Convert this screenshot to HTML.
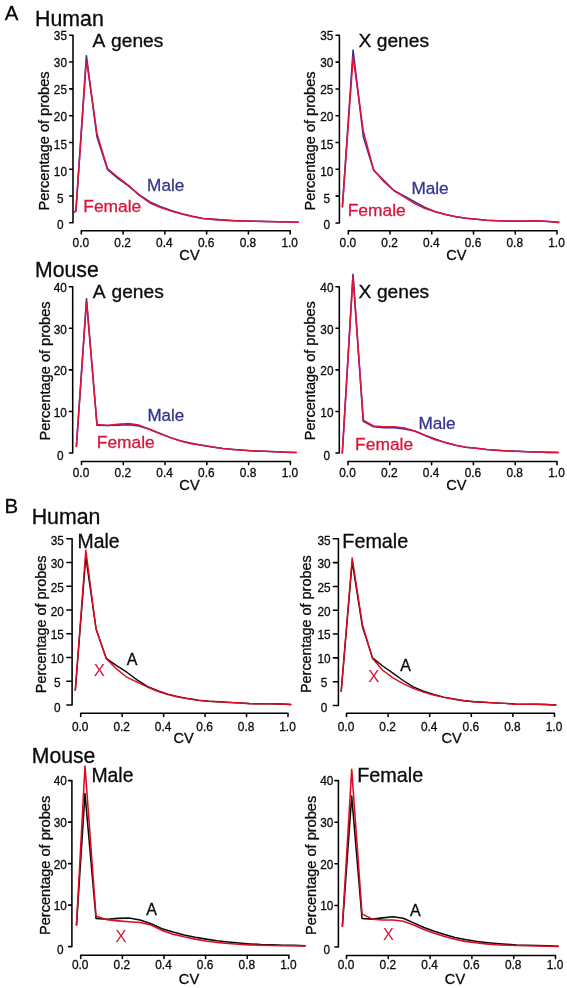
<!DOCTYPE html>
<html><head><meta charset="utf-8"><title>Figure</title>
<style>
html,body{margin:0;padding:0;background:#fff;}
body{width:567px;height:988px;overflow:hidden;font-family:"Liberation Sans",sans-serif;}
svg{display:block;will-change:transform;}
svg text{font-family:"Liberation Sans",sans-serif;fill:#0a0a0a;stroke:#0a0a0a;stroke-width:0.3px;}
svg text.thin{stroke-width:0;}
</style></head><body>
<svg width="567" height="988" viewBox="0 0 567 988">
<rect width="567" height="988" fill="#fff"/>
<g>
<path d="M74.6,211.82 L75.9,211.01 L86.4,55.66 L97,137.09 L107.59,169.76 L118.19,178.55 L128.78,186.1 L139.38,194.94 L149.97,201.91 L160.56,206.62 L171.16,210.48 L181.75,213.75 L192.35,216.37 L202.94,218.41 L213.54,219.37 L224.14,220.12 L234.73,220.66 L245.33,221.03 L255.92,221.35 L266.51,221.57 L277.11,221.73 L287.71,221.94 L298.3,222.26" fill="none" stroke="#2f2f9e" stroke-width="1.55" stroke-linejoin="round" stroke-linecap="round"/>
<path d="M74.6,211.82 L75.9,211.01 L86.4,59.41 L97,133.87 L107.59,168.69 L118.19,177.48 L128.78,185.57 L139.38,195.48 L149.97,202.98 L160.56,207.43 L171.16,211.01 L181.75,214.01 L192.35,216.48 L202.94,218.41 L213.54,219.37 L224.14,220.12 L234.73,220.66 L245.33,221.03 L255.92,221.35 L266.51,221.57 L277.11,221.73 L287.71,221.94 L298.3,222.26" fill="none" stroke="#e3123a" stroke-width="1.55" stroke-linejoin="round" stroke-linecap="round"/>
<path d="M69.65,35.3 H73 V222.8 H69.65 M73,196.01 H69.65 M73,169.23 H69.65 M73,142.44 H69.65 M73,115.66 H69.65 M73,88.87 H69.65 M73,62.09 H69.65 M81.3,233.9 V230.7 H290.2 V233.9 M123.08,230.7 V233.9 M164.86,230.7 V233.9 M206.64,230.7 V233.9 M248.42,230.7 V233.9" fill="none" stroke="#000" stroke-width="1.55" stroke-linecap="round" stroke-linejoin="round"/>
<text transform="translate(60.4,229.35) scale(0.93,1)" font-size="12.7" text-anchor="middle">0</text>
<text transform="translate(60.4,202.85) scale(0.93,1)" font-size="12.7" text-anchor="middle">5</text>
<text transform="translate(60.4,175.7) scale(0.93,1)" font-size="12.7" text-anchor="middle">10</text>
<text transform="translate(60.4,148.55) scale(0.93,1)" font-size="12.7" text-anchor="middle">15</text>
<text transform="translate(60.4,121.4) scale(0.93,1)" font-size="12.7" text-anchor="middle">20</text>
<text transform="translate(60.4,94.25) scale(0.93,1)" font-size="12.7" text-anchor="middle">25</text>
<text transform="translate(60.4,67.1) scale(0.93,1)" font-size="12.7" text-anchor="middle">30</text>
<text transform="translate(60.4,39.95) scale(0.93,1)" font-size="12.7" text-anchor="middle">35</text>
<text transform="translate(80.8,246.85) scale(0.96,1)" font-size="12.4" text-anchor="middle">0.0</text>
<text transform="translate(122.58,246.85) scale(0.96,1)" font-size="12.4" text-anchor="middle">0.2</text>
<text transform="translate(164.36,246.85) scale(0.96,1)" font-size="12.4" text-anchor="middle">0.4</text>
<text transform="translate(206.14,246.85) scale(0.96,1)" font-size="12.4" text-anchor="middle">0.6</text>
<text transform="translate(247.92,246.85) scale(0.96,1)" font-size="12.4" text-anchor="middle">0.8</text>
<text transform="translate(289.7,246.85) scale(0.96,1)" font-size="12.4" text-anchor="middle">1.0</text>
<text x="189.5" y="259.7" font-size="14.6" text-anchor="middle">CV</text>
<text transform="translate(49.3,141) rotate(-90)" font-size="14.55" text-anchor="middle">Percentage of probes</text>
<text x="92.4" y="46.6" font-size="19.2" word-spacing="1.6" style="fill:#0a0a0a;stroke:#0a0a0a">A genes</text>
<text x="147.1" y="191" font-size="17.2" style="fill:#353592;stroke:#353592">Male</text>
<text x="83.3" y="211.9" font-size="17.4" style="fill:#d6173a;stroke:#d6173a">Female</text>
</g>
<g>
<path d="M342.4,206.82 L353.1,50.04 L363.38,137.14 L373.66,170.37 L383.94,180.56 L394.22,190.74 L404.5,196.1 L414.78,202 L425.06,207.36 L435.34,211.64 L445.62,214.59 L455.9,216.74 L466.18,218.18 L476.46,219.26 L486.74,220.22 L497.02,220.65 L507.3,221.02 L517.58,221.29 L527.86,220.97 L538.14,220.97 L548.42,221.56 L558.7,222.36" fill="none" stroke="#2f2f9e" stroke-width="1.55" stroke-linejoin="round" stroke-linecap="round"/>
<path d="M342.4,206.82 L353.1,56.74 L363.38,131.78 L373.66,169.84 L383.94,181.63 L394.22,190.74 L404.5,197.17 L414.78,203.6 L425.06,208.43 L435.34,211.64 L445.62,214.59 L455.9,216.74 L466.18,218.18 L476.46,219.26 L486.74,220.22 L497.02,220.65 L507.3,221.02 L517.58,221.13 L527.86,220.97 L538.14,220.86 L548.42,221.56 L558.7,222.36" fill="none" stroke="#e3123a" stroke-width="1.55" stroke-linejoin="round" stroke-linecap="round"/>
<path d="M336.05,35.3 H339.4 V222.9 H336.05 M339.4,196.1 H336.05 M339.4,169.3 H336.05 M339.4,142.5 H336.05 M339.4,115.7 H336.05 M339.4,88.9 H336.05 M339.4,62.1 H336.05 M348.3,233.9 V230.7 H557 V233.9 M390.04,230.7 V233.9 M431.78,230.7 V233.9 M473.52,230.7 V233.9 M515.26,230.7 V233.9" fill="none" stroke="#000" stroke-width="1.55" stroke-linecap="round" stroke-linejoin="round"/>
<text transform="translate(326.8,229.35) scale(0.93,1)" font-size="12.7" text-anchor="middle">0</text>
<text transform="translate(326.8,202.85) scale(0.93,1)" font-size="12.7" text-anchor="middle">5</text>
<text transform="translate(326.8,175.7) scale(0.93,1)" font-size="12.7" text-anchor="middle">10</text>
<text transform="translate(326.8,148.55) scale(0.93,1)" font-size="12.7" text-anchor="middle">15</text>
<text transform="translate(326.8,121.4) scale(0.93,1)" font-size="12.7" text-anchor="middle">20</text>
<text transform="translate(326.8,94.25) scale(0.93,1)" font-size="12.7" text-anchor="middle">25</text>
<text transform="translate(326.8,67.1) scale(0.93,1)" font-size="12.7" text-anchor="middle">30</text>
<text transform="translate(326.8,39.95) scale(0.93,1)" font-size="12.7" text-anchor="middle">35</text>
<text transform="translate(347.8,246.85) scale(0.96,1)" font-size="12.4" text-anchor="middle">0.0</text>
<text transform="translate(389.54,246.85) scale(0.96,1)" font-size="12.4" text-anchor="middle">0.2</text>
<text transform="translate(431.28,246.85) scale(0.96,1)" font-size="12.4" text-anchor="middle">0.4</text>
<text transform="translate(473.02,246.85) scale(0.96,1)" font-size="12.4" text-anchor="middle">0.6</text>
<text transform="translate(514.76,246.85) scale(0.96,1)" font-size="12.4" text-anchor="middle">0.8</text>
<text transform="translate(556.5,246.85) scale(0.96,1)" font-size="12.4" text-anchor="middle">1.0</text>
<text x="456.4" y="259.7" font-size="14.6" text-anchor="middle">CV</text>
<text transform="translate(314.8,141) rotate(-90)" font-size="14.55" text-anchor="middle">Percentage of probes</text>
<text x="358.4" y="46.6" font-size="19.2" word-spacing="0.2" style="fill:#0a0a0a;stroke:#0a0a0a">X genes</text>
<text x="411.4" y="194.3" font-size="17.2" style="fill:#353592;stroke:#353592">Male</text>
<text x="347.7" y="215.5" font-size="17.4" style="fill:#d6173a;stroke:#d6173a">Female</text>
</g>
<g>
<path d="M76.4,446.35 L86.5,298.76 L96.99,425.14 L107.48,425.56 L117.97,425.14 L128.46,424.73 L138.95,425.98 L149.44,429.3 L159.93,433.46 L170.42,437.62 L180.91,440.94 L191.4,443.23 L201.89,445.31 L212.38,446.97 L222.87,448.43 L233.36,449.47 L243.85,450.3 L254.34,450.92 L264.83,451.34 L275.32,451.75 L285.81,452.17 L296.3,452.58" fill="none" stroke="#2f2f9e" stroke-width="1.55" stroke-linejoin="round" stroke-linecap="round"/>
<path d="M76.4,446.35 L86.5,301.25 L96.99,424.52 L107.48,425.56 L117.97,424.31 L128.46,423.48 L138.95,425.14 L149.44,429.3 L159.93,433.46 L170.42,437.62 L180.91,440.94 L191.4,443.65 L201.89,445.31 L212.38,446.97 L222.87,448.43 L233.36,449.47 L243.85,450.3 L254.34,450.92 L264.83,451.34 L275.32,451.75 L285.81,452.17 L296.3,452.58" fill="none" stroke="#e3123a" stroke-width="1.55" stroke-linejoin="round" stroke-linecap="round"/>
<path d="M69.35,286.7 H72.7 V453 H69.35 M72.7,411.43 H69.35 M72.7,369.85 H69.35 M72.7,328.27 H69.35 M81.5,464.6 V461.4 H290.4 V464.6 M123.28,461.4 V464.6 M165.06,461.4 V464.6 M206.84,461.4 V464.6 M248.62,461.4 V464.6" fill="none" stroke="#000" stroke-width="1.55" stroke-linecap="round" stroke-linejoin="round"/>
<text transform="translate(60.3,460.25) scale(0.93,1)" font-size="12.7" text-anchor="middle">0</text>
<text transform="translate(60.3,416.8) scale(0.93,1)" font-size="12.7" text-anchor="middle">10</text>
<text transform="translate(60.3,375.15) scale(0.93,1)" font-size="12.7" text-anchor="middle">20</text>
<text transform="translate(60.3,333.5) scale(0.93,1)" font-size="12.7" text-anchor="middle">30</text>
<text transform="translate(60.3,291.85) scale(0.93,1)" font-size="12.7" text-anchor="middle">40</text>
<text transform="translate(81,476.95) scale(0.96,1)" font-size="12.4" text-anchor="middle">0.0</text>
<text transform="translate(122.78,476.95) scale(0.96,1)" font-size="12.4" text-anchor="middle">0.2</text>
<text transform="translate(164.56,476.95) scale(0.96,1)" font-size="12.4" text-anchor="middle">0.4</text>
<text transform="translate(206.34,476.95) scale(0.96,1)" font-size="12.4" text-anchor="middle">0.6</text>
<text transform="translate(248.12,476.95) scale(0.96,1)" font-size="12.4" text-anchor="middle">0.8</text>
<text transform="translate(289.9,476.95) scale(0.96,1)" font-size="12.4" text-anchor="middle">1.0</text>
<text x="189.5" y="489.7" font-size="14.6" text-anchor="middle">CV</text>
<text transform="translate(49.6,371) rotate(-90)" font-size="14.55" text-anchor="middle">Percentage of probes</text>
<text x="92.8" y="297.7" font-size="19.2" word-spacing="1.6" style="fill:#0a0a0a;stroke:#0a0a0a">A genes</text>
<text x="147.4" y="420.8" font-size="17.0" style="fill:#353592;stroke:#353592">Male</text>
<text x="96.8" y="447.9" font-size="17.4" style="fill:#d6173a;stroke:#d6173a">Female</text>
</g>
<g>
<path d="M342.3,453 L353,274.23 L363.27,421.4 L373.54,426.81 L383.81,427.64 L394.08,427.64 L404.35,428.89 L414.62,430.97 L424.89,435.12 L435.16,438.86 L445.43,442.61 L455.7,445.31 L465.97,447.18 L476.24,448.22 L486.51,449.47 L496.78,450.3 L507.05,450.92 L517.32,451.34 L527.59,451.75 L537.86,452.09 L548.13,452.38 L558.4,452.58" fill="none" stroke="#2f2f9e" stroke-width="1.55" stroke-linejoin="round" stroke-linecap="round"/>
<path d="M342.3,453 L353,275.89 L363.27,420.16 L373.54,425.98 L383.81,426.81 L394.08,426.81 L404.35,428.06 L414.62,430.97 L424.89,435.54 L435.16,439.7 L445.43,442.61 L455.7,445.31 L465.97,447.18 L476.24,448.22 L486.51,449.47 L496.78,450.3 L507.05,450.92 L517.32,451.34 L527.59,451.75 L537.86,452.09 L548.13,452.38 L558.4,452.58" fill="none" stroke="#e3123a" stroke-width="1.55" stroke-linejoin="round" stroke-linecap="round"/>
<path d="M335.95,286.7 H339.3 V453 H335.95 M339.3,411.43 H335.95 M339.3,369.85 H335.95 M339.3,328.27 H335.95 M348,464.7 V461.5 H557 V464.7 M389.8,461.5 V464.7 M431.6,461.5 V464.7 M473.4,461.5 V464.7 M515.2,461.5 V464.7" fill="none" stroke="#000" stroke-width="1.55" stroke-linecap="round" stroke-linejoin="round"/>
<text transform="translate(326.9,460.25) scale(0.93,1)" font-size="12.7" text-anchor="middle">0</text>
<text transform="translate(326.9,416.8) scale(0.93,1)" font-size="12.7" text-anchor="middle">10</text>
<text transform="translate(326.9,375.15) scale(0.93,1)" font-size="12.7" text-anchor="middle">20</text>
<text transform="translate(326.9,333.5) scale(0.93,1)" font-size="12.7" text-anchor="middle">30</text>
<text transform="translate(326.9,291.85) scale(0.93,1)" font-size="12.7" text-anchor="middle">40</text>
<text transform="translate(347.5,476.95) scale(0.96,1)" font-size="12.4" text-anchor="middle">0.0</text>
<text transform="translate(389.3,476.95) scale(0.96,1)" font-size="12.4" text-anchor="middle">0.2</text>
<text transform="translate(431.1,476.95) scale(0.96,1)" font-size="12.4" text-anchor="middle">0.4</text>
<text transform="translate(472.9,476.95) scale(0.96,1)" font-size="12.4" text-anchor="middle">0.6</text>
<text transform="translate(514.7,476.95) scale(0.96,1)" font-size="12.4" text-anchor="middle">0.8</text>
<text transform="translate(556.5,476.95) scale(0.96,1)" font-size="12.4" text-anchor="middle">1.0</text>
<text x="456.4" y="489.7" font-size="14.6" text-anchor="middle">CV</text>
<text transform="translate(315.2,370.7) rotate(-90)" font-size="14.55" text-anchor="middle">Percentage of probes</text>
<text x="358.6" y="297.5" font-size="19.2" word-spacing="0.2" style="fill:#0a0a0a;stroke:#0a0a0a">X genes</text>
<text x="418.4" y="428.7" font-size="17.2" style="fill:#353592;stroke:#353592">Male</text>
<text x="355.1" y="450.2" font-size="17.4" style="fill:#d6173a;stroke:#d6173a">Female</text>
</g>
<g>
<path d="M75.3,690.28 L85.8,556.84 L96.05,629.02 L106.3,658.46 L116.55,665.59 L126.8,672.23 L137.05,679.83 L147.3,686.48 L157.55,690.75 L167.8,694.08 L178.05,696.69 L188.3,698.59 L198.55,700.25 L208.8,701.2 L219.05,701.77 L229.3,702.39 L239.55,702.86 L249.8,703.58 L260.05,703.81 L270.3,703.81 L280.55,704.05 L290.8,704.53" fill="none" stroke="#0a0a0a" stroke-width="1.45" stroke-linejoin="round" stroke-linecap="round"/>
<path d="M75.3,690.28 L85.8,550.2 L96.05,629.02 L106.3,658.7 L116.55,668.91 L126.8,677.22 L137.05,682.21 L147.3,686.96 L157.55,691.23 L167.8,694.55 L178.05,696.93 L188.3,698.83 L198.55,700.35 L208.8,701.3 L219.05,701.87 L229.3,702.44 L239.55,702.91 L249.8,703.67 L260.05,703.86 L270.3,703.81 L280.55,704.05 L290.8,704.53" fill="none" stroke="#de0a20" stroke-width="1.45" stroke-linejoin="round" stroke-linecap="round"/>
<path d="M66.85,538.8 H72.1 V705 H66.85 M72.1,681.26 H66.85 M72.1,657.51 H66.85 M72.1,633.77 H66.85 M72.1,610.03 H66.85 M72.1,586.29 H66.85 M72.1,562.54 H66.85 M80.7,716.4 V713.2 H288 V716.4 M122.16,713.2 V716.4 M163.62,713.2 V716.4 M205.08,713.2 V716.4 M246.54,713.2 V716.4" fill="none" stroke="#000" stroke-width="1.55" stroke-linecap="round" stroke-linejoin="round"/>
<text transform="translate(57.3,712.25) scale(0.93,1)" font-size="12.7" text-anchor="middle">0</text>
<text transform="translate(57.3,686.85) scale(0.93,1)" font-size="12.7" text-anchor="middle">5</text>
<text transform="translate(57.3,663.15) scale(0.93,1)" font-size="12.7" text-anchor="middle">10</text>
<text transform="translate(57.3,639.45) scale(0.93,1)" font-size="12.7" text-anchor="middle">15</text>
<text transform="translate(57.3,615.75) scale(0.93,1)" font-size="12.7" text-anchor="middle">20</text>
<text transform="translate(57.3,592.05) scale(0.93,1)" font-size="12.7" text-anchor="middle">25</text>
<text transform="translate(57.3,568.35) scale(0.93,1)" font-size="12.7" text-anchor="middle">30</text>
<text transform="translate(57.3,544.65) scale(0.93,1)" font-size="12.7" text-anchor="middle">35</text>
<text transform="translate(80.2,730.65) scale(0.96,1)" font-size="12.4" text-anchor="middle">0.0</text>
<text transform="translate(121.66,730.65) scale(0.96,1)" font-size="12.4" text-anchor="middle">0.2</text>
<text transform="translate(163.12,730.65) scale(0.96,1)" font-size="12.4" text-anchor="middle">0.4</text>
<text transform="translate(204.58,730.65) scale(0.96,1)" font-size="12.4" text-anchor="middle">0.6</text>
<text transform="translate(246.04,730.65) scale(0.96,1)" font-size="12.4" text-anchor="middle">0.8</text>
<text transform="translate(287.5,730.65) scale(0.96,1)" font-size="12.4" text-anchor="middle">1.0</text>
<text x="183.7" y="742.7" font-size="14.6" text-anchor="middle">CV</text>
<text transform="translate(46.3,624.4) rotate(-90)" font-size="14.4" text-anchor="middle">Percentage of probes</text>
<text x="77.5" y="547.9" font-size="19.4" style="fill:#0a0a0a;stroke:#0a0a0a">Male</text>
<text x="126.8" y="664.7" font-size="16" style="fill:#0a0a0a;stroke:#0a0a0a">A</text>
<text x="99.3" y="675.5" font-size="16.76" text-anchor="middle" class="thin" style="fill:#d6173a;stroke:#d6173a">X</text>
</g>
<g>
<path d="M341.2,691.21 L352.2,561.66 L362.38,626.44 L372.56,657.87 L382.74,665.97 L392.92,673.11 L403.1,680.5 L413.28,686.92 L423.46,691.21 L433.64,694.55 L443.82,697.16 L454,699.07 L464.18,700.74 L474.36,701.69 L484.54,702.26 L494.72,702.88 L504.9,703.36 L515.08,704.07 L525.26,704.31 L535.44,704.31 L545.62,704.55 L555.8,705.02" fill="none" stroke="#0a0a0a" stroke-width="1.45" stroke-linejoin="round" stroke-linecap="round"/>
<path d="M341.2,691.21 L352.2,557.85 L362.38,624.53 L372.56,658.59 L382.74,670.25 L392.92,677.88 L403.1,683.59 L413.28,688.35 L423.46,692.16 L433.64,695.02 L443.82,697.4 L454,699.31 L464.18,700.83 L474.36,701.78 L484.54,702.36 L494.72,702.93 L504.9,703.4 L515.08,704.17 L525.26,704.36 L535.44,704.31 L545.62,704.55 L555.8,705.02" fill="none" stroke="#de0a20" stroke-width="1.45" stroke-linejoin="round" stroke-linecap="round"/>
<path d="M333.35,538.8 H338.4 V705.5 H333.35 M338.4,681.69 H333.35 M338.4,657.87 H333.35 M338.4,634.06 H333.35 M338.4,610.24 H333.35 M338.4,586.43 H333.35 M338.4,562.61 H333.35 M346.5,716.4 V713.2 H554.5 V716.4 M388.1,713.2 V716.4 M429.7,713.2 V716.4 M471.3,713.2 V716.4 M512.9,713.2 V716.4" fill="none" stroke="#000" stroke-width="1.55" stroke-linecap="round" stroke-linejoin="round"/>
<text transform="translate(324.1,712.25) scale(0.93,1)" font-size="12.7" text-anchor="middle">0</text>
<text transform="translate(324.1,686.85) scale(0.93,1)" font-size="12.7" text-anchor="middle">5</text>
<text transform="translate(324.1,663.15) scale(0.93,1)" font-size="12.7" text-anchor="middle">10</text>
<text transform="translate(324.1,639.45) scale(0.93,1)" font-size="12.7" text-anchor="middle">15</text>
<text transform="translate(324.1,615.75) scale(0.93,1)" font-size="12.7" text-anchor="middle">20</text>
<text transform="translate(324.1,592.05) scale(0.93,1)" font-size="12.7" text-anchor="middle">25</text>
<text transform="translate(324.1,568.35) scale(0.93,1)" font-size="12.7" text-anchor="middle">30</text>
<text transform="translate(324.1,544.65) scale(0.93,1)" font-size="12.7" text-anchor="middle">35</text>
<text transform="translate(346,730.65) scale(0.96,1)" font-size="12.4" text-anchor="middle">0.0</text>
<text transform="translate(387.6,730.65) scale(0.96,1)" font-size="12.4" text-anchor="middle">0.2</text>
<text transform="translate(429.2,730.65) scale(0.96,1)" font-size="12.4" text-anchor="middle">0.4</text>
<text transform="translate(470.8,730.65) scale(0.96,1)" font-size="12.4" text-anchor="middle">0.6</text>
<text transform="translate(512.4,730.65) scale(0.96,1)" font-size="12.4" text-anchor="middle">0.8</text>
<text transform="translate(554,730.65) scale(0.96,1)" font-size="12.4" text-anchor="middle">1.0</text>
<text x="451.7" y="742.7" font-size="14.6" text-anchor="middle">CV</text>
<text transform="translate(311.4,624.2) rotate(-90)" font-size="14.4" text-anchor="middle">Percentage of probes</text>
<text x="342.3" y="547.7" font-size="19.8" style="fill:#0a0a0a;stroke:#0a0a0a">Female</text>
<text x="400.2" y="671" font-size="16" style="fill:#0a0a0a;stroke:#0a0a0a">A</text>
<text x="373.75" y="682.4" font-size="16.62" text-anchor="middle" class="thin" style="fill:#d6173a;stroke:#d6173a">X</text>
</g>
<g>
<path d="M76.5,925.02 L85,793.47 L96,918.38 L107.01,919.21 L118.02,918.38 L129.02,917.97 L140.03,920.04 L151.03,923.77 L162.04,928.75 L173.04,932.08 L184.05,934.98 L195.05,937.26 L206.06,939.13 L217.06,940.79 L228.06,942.03 L239.07,943.07 L250.08,943.9 L261.08,944.52 L272.09,944.86 L283.09,945.15 L294.1,945.36 L305.1,945.77" fill="none" stroke="#0a0a0a" stroke-width="1.55" stroke-linejoin="round" stroke-linecap="round"/>
<path d="M76.5,925.02 L85,766.08 L96,916.31 L107.01,919.83 L118.02,920.87 L129.02,921.7 L140.03,922.53 L151.03,925.02 L162.04,930.41 L173.04,934.15 L184.05,936.85 L195.05,939.13 L206.06,941 L217.06,942.45 L228.06,943.49 L239.07,944.32 L250.08,944.86 L261.08,945.15 L272.09,945.44 L283.09,945.69 L294.1,945.85 L305.1,945.98" fill="none" stroke="#de0a20" stroke-width="1.55" stroke-linejoin="round" stroke-linecap="round"/>
<path d="M68.55,780.6 H71.9 V946.6 H68.55 M71.9,905.1 H68.55 M71.9,863.6 H68.55 M71.9,822.1 H68.55 M80.7,958.5 V955.3 H288.9 V958.5 M122.34,955.3 V958.5 M163.98,955.3 V958.5 M205.62,955.3 V958.5 M247.26,955.3 V958.5" fill="none" stroke="#000" stroke-width="1.55" stroke-linecap="round" stroke-linejoin="round"/>
<text transform="translate(60.3,953.65) scale(0.93,1)" font-size="12.7" text-anchor="middle">0</text>
<text transform="translate(60.3,910.25) scale(0.93,1)" font-size="12.7" text-anchor="middle">10</text>
<text transform="translate(60.3,868.65) scale(0.93,1)" font-size="12.7" text-anchor="middle">20</text>
<text transform="translate(60.3,827.05) scale(0.93,1)" font-size="12.7" text-anchor="middle">30</text>
<text transform="translate(60.3,785.45) scale(0.93,1)" font-size="12.7" text-anchor="middle">40</text>
<text transform="translate(80.2,968.75) scale(0.96,1)" font-size="12.4" text-anchor="middle">0.0</text>
<text transform="translate(121.84,968.75) scale(0.96,1)" font-size="12.4" text-anchor="middle">0.2</text>
<text transform="translate(163.48,968.75) scale(0.96,1)" font-size="12.4" text-anchor="middle">0.4</text>
<text transform="translate(205.12,968.75) scale(0.96,1)" font-size="12.4" text-anchor="middle">0.6</text>
<text transform="translate(246.76,968.75) scale(0.96,1)" font-size="12.4" text-anchor="middle">0.8</text>
<text transform="translate(288.4,968.75) scale(0.96,1)" font-size="12.4" text-anchor="middle">1.0</text>
<text x="189" y="983.7" font-size="14.6" text-anchor="middle">CV</text>
<text transform="translate(49.9,865.4) rotate(-90)" font-size="14.55" text-anchor="middle">Percentage of probes</text>
<text x="91.4" y="782.3" font-size="19.4" style="fill:#0a0a0a;stroke:#0a0a0a">Male</text>
<text x="146.3" y="914.8" font-size="16" style="fill:#0a0a0a;stroke:#0a0a0a">A</text>
<text x="120.85" y="942.3" font-size="16.34" text-anchor="middle" class="thin" style="fill:#bf2238;stroke:#bf2238">X</text>
</g>
<g>
<path d="M342.4,926.2 L351.7,795.99 L362.02,918.5 L372.34,919.13 L382.66,917.88 L392.98,916.84 L403.3,918.3 L413.62,922.87 L423.94,927.45 L434.26,931.19 L444.58,934.52 L454.9,937.43 L465.22,939.51 L475.54,941.18 L485.86,942.42 L496.18,943.46 L506.5,944.3 L516.82,944.92 L527.14,945.25 L537.46,945.54 L547.78,945.75 L558.1,946.17" fill="none" stroke="#0a0a0a" stroke-width="1.55" stroke-linejoin="round" stroke-linecap="round"/>
<path d="M342.4,926.2 L351.7,769.37 L362.02,913.93 L372.34,919.13 L382.66,919.96 L392.98,919.96 L403.3,921.21 L413.62,924.95 L423.94,929.53 L434.26,933.27 L444.58,936.6 L454.9,939.3 L465.22,941.38 L475.54,942.84 L485.86,943.88 L496.18,944.71 L506.5,945.25 L516.82,945.54 L527.14,945.84 L537.46,946.08 L547.78,946.25 L558.1,946.38" fill="none" stroke="#de0a20" stroke-width="1.55" stroke-linejoin="round" stroke-linecap="round"/>
<path d="M334.95,780.6 H338.4 V947 H334.95 M338.4,905.4 H334.95 M338.4,863.8 H334.95 M338.4,822.2 H334.95 M346.5,958.6 V955.4 H555.5 V958.6 M388.3,955.4 V958.6 M430.1,955.4 V958.6 M471.9,955.4 V958.6 M513.7,955.4 V958.6" fill="none" stroke="#000" stroke-width="1.55" stroke-linecap="round" stroke-linejoin="round"/>
<text transform="translate(326.7,953.65) scale(0.93,1)" font-size="12.7" text-anchor="middle">0</text>
<text transform="translate(326.7,910.25) scale(0.93,1)" font-size="12.7" text-anchor="middle">10</text>
<text transform="translate(326.7,868.65) scale(0.93,1)" font-size="12.7" text-anchor="middle">20</text>
<text transform="translate(326.7,827.05) scale(0.93,1)" font-size="12.7" text-anchor="middle">30</text>
<text transform="translate(326.7,785.45) scale(0.93,1)" font-size="12.7" text-anchor="middle">40</text>
<text transform="translate(346,968.75) scale(0.96,1)" font-size="12.4" text-anchor="middle">0.0</text>
<text transform="translate(387.8,968.75) scale(0.96,1)" font-size="12.4" text-anchor="middle">0.2</text>
<text transform="translate(429.6,968.75) scale(0.96,1)" font-size="12.4" text-anchor="middle">0.4</text>
<text transform="translate(471.4,968.75) scale(0.96,1)" font-size="12.4" text-anchor="middle">0.6</text>
<text transform="translate(513.2,968.75) scale(0.96,1)" font-size="12.4" text-anchor="middle">0.8</text>
<text transform="translate(555,968.75) scale(0.96,1)" font-size="12.4" text-anchor="middle">1.0</text>
<text x="455" y="983.7" font-size="14.6" text-anchor="middle">CV</text>
<text transform="translate(315.9,865.4) rotate(-90)" font-size="14.55" text-anchor="middle">Percentage of probes</text>
<text x="357.2" y="782.2" font-size="19.8" style="fill:#0a0a0a;stroke:#0a0a0a">Female</text>
<text x="410" y="916.2" font-size="16" style="fill:#0a0a0a;stroke:#0a0a0a">A</text>
<text x="388.45" y="939.7" font-size="16.2" text-anchor="middle" class="thin" style="fill:#d6173a;stroke:#d6173a">X</text>
</g>
<text x="4.7" y="19.9" font-size="20.4">A</text>
<text x="35.1" y="26.3" font-size="21.3">Human</text>
<text x="35.1" y="277" font-size="21.2">Mouse</text>
<text x="4.6" y="512.6" font-size="20.4">B</text>
<text x="31.7" y="523.8" font-size="21.3">Human</text>
<text x="31.8" y="762.7" font-size="21.2">Mouse</text>
</svg>
</body></html>
